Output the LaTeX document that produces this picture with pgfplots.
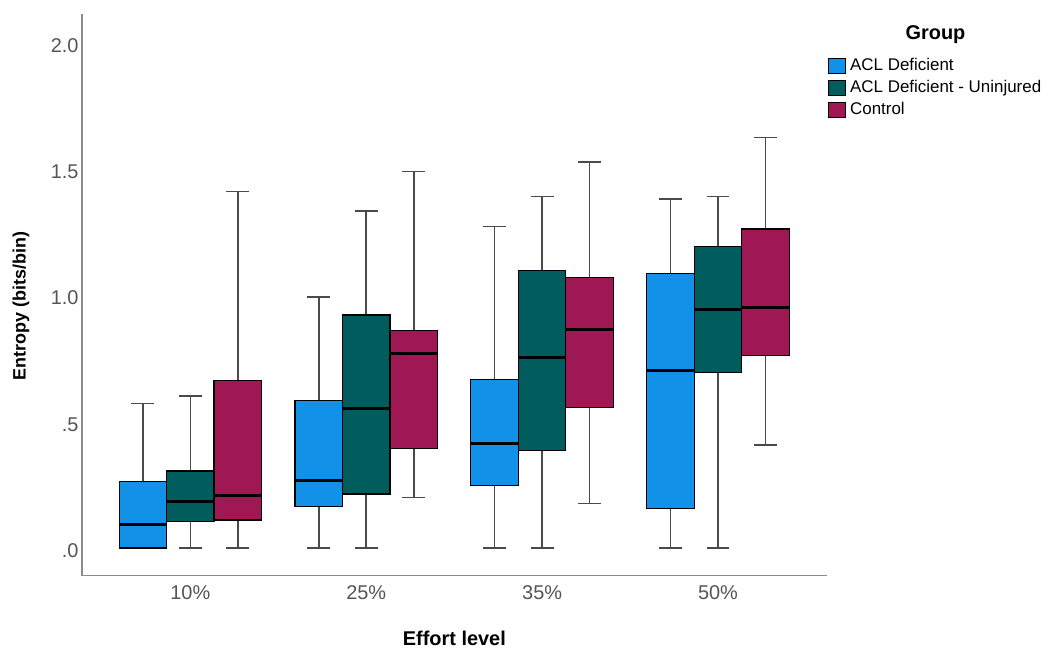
\documentclass[border=0pt]{standalone}
\usepackage{pgfplots}
\pgfplotsset{compat=1.18}
\usepgfplotslibrary{statistics}
\usepackage{fontspec}
\setmainfont{Liberation Sans}
\definecolor{cblue}{HTML}{1192E8}
\definecolor{cteal}{HTML}{005D5D}
\definecolor{cmag}{HTML}{9F1853}
\definecolor{tickgray}{HTML}{555555}
\definecolor{whiskgray}{HTML}{4A4A4A}
\definecolor{axgray}{HTML}{8C8C8C}
\newcommand{\bx}[7]{\addplot[forget plot, fill=#1, draw=black, line width=1.2bp,
  boxplot prepared={draw direction=y, draw position=#2, lower whisker=#3, lower quartile=#4,
  median=#5, upper quartile=#6, upper whisker=#7}] coordinates {};}
\begin{document}
\begin{tikzpicture}
\path[use as bounding box] (0bp,0bp) rectangle (1050bp,656bp);
\begin{axis}[
  at={(82bp,80.3bp)}, anchor=south west,
  scale only axis, width=744.7bp, height=561.7bp,
  xmin=-0.616, xmax=3.618, ymin=-0.1097, ymax=2.1157,
  axis lines*=left,
  axis line style={axgray, line width=1.5bp},
  xtick={0,1,2,3}, xticklabels={10\%,25\%,35\%,50\%},
  ytick={0,0.5,1,1.5,2}, yticklabels={.0,.5,1.0,1.5,2.0},
  major tick length=0,
  /pgf/number format/assume math mode=true,
  tick label style={font=\fontsize{20}{24}\selectfont, text=tickgray},
  yticklabel style={yshift=-2.5bp},
  xticklabel style={yshift=-6.5bp},
  xlabel={Effort level},
  xlabel style={at={(axis description cs:0.5,0)}, anchor=base, yshift=-69.3bp,
    font=\bfseries\fontsize{20}{24}\selectfont},
  ylabel={Entropy (bits/bin)},
  ylabel style={at={(axis description cs:-0.0819,0.480)}, anchor=center,
    font=\bfseries\fontsize{18}{22}\selectfont},
  boxplot/draw direction=y,
  boxplot/box extend=0.27,
  boxplot/whisker extend=0.13,
  boxplot/every whisker/.style={draw=whiskgray, line width=1.6bp},
  boxplot/every median/.style={draw=black, line width=3bp},
  legend style={at={(1.0017,0.9217)}, anchor=north west, draw=none, fill=none,
    inner sep=0pt, row sep=6bp, column sep=4bp,
    font=\fontsize{17}{20}\selectfont,
    nodes={inner sep=0pt, text height=12bp, text depth=4bp}},
  legend cell align=left,
  legend image code/.code={\draw[#1, line width=1bp] (0bp,-7.5bp) rectangle (17bp,7.5bp);},
]
% 10%
\bx{cblue}{-0.27}{0}{0}{0.094}{0.263}{0.573}
\bx{cteal}{0}{0}{0.104}{0.183}{0.305}{0.602}
\bx{cmag}{0.27}{0}{0.111}{0.210}{0.663}{1.412}
% 25%
\bx{cblue}{0.73}{0}{0.164}{0.267}{0.584}{0.994}
\bx{cteal}{1}{0}{0.214}{0.553}{0.923}{1.334}
\bx{cmag}{1.27}{0.200}{0.393}{0.771}{0.861}{1.491}
% 35%
\bx{cblue}{1.73}{0}{0.248}{0.415}{0.668}{1.273}
\bx{cteal}{2}{0}{0.385}{0.754}{1.101}{1.392}
\bx{cmag}{2.27}{0.176}{0.557}{0.866}{1.071}{1.529}
% 50%
\bx{cblue}{2.73}{0}{0.158}{0.702}{1.088}{1.383}
\bx{cteal}{3}{0}{0.695}{0.943}{1.194}{1.392}
\bx{cmag}{3.27}{0.407}{0.762}{0.954}{1.264}{1.627}
\addlegendimage{fill=cblue, draw=black}
\addlegendentry{ACL Deficient}
\addlegendimage{fill=cteal, draw=black}
\addlegendentry{ACL Deficient - Uninjured}
\addlegendimage{fill=cmag, draw=black}
\addlegendentry{Control}
\end{axis}
\node[anchor=base, font=\bfseries\fontsize{20}{24}\selectfont] at (935.5bp,616bp) {Group};
\end{tikzpicture}
\end{document}
